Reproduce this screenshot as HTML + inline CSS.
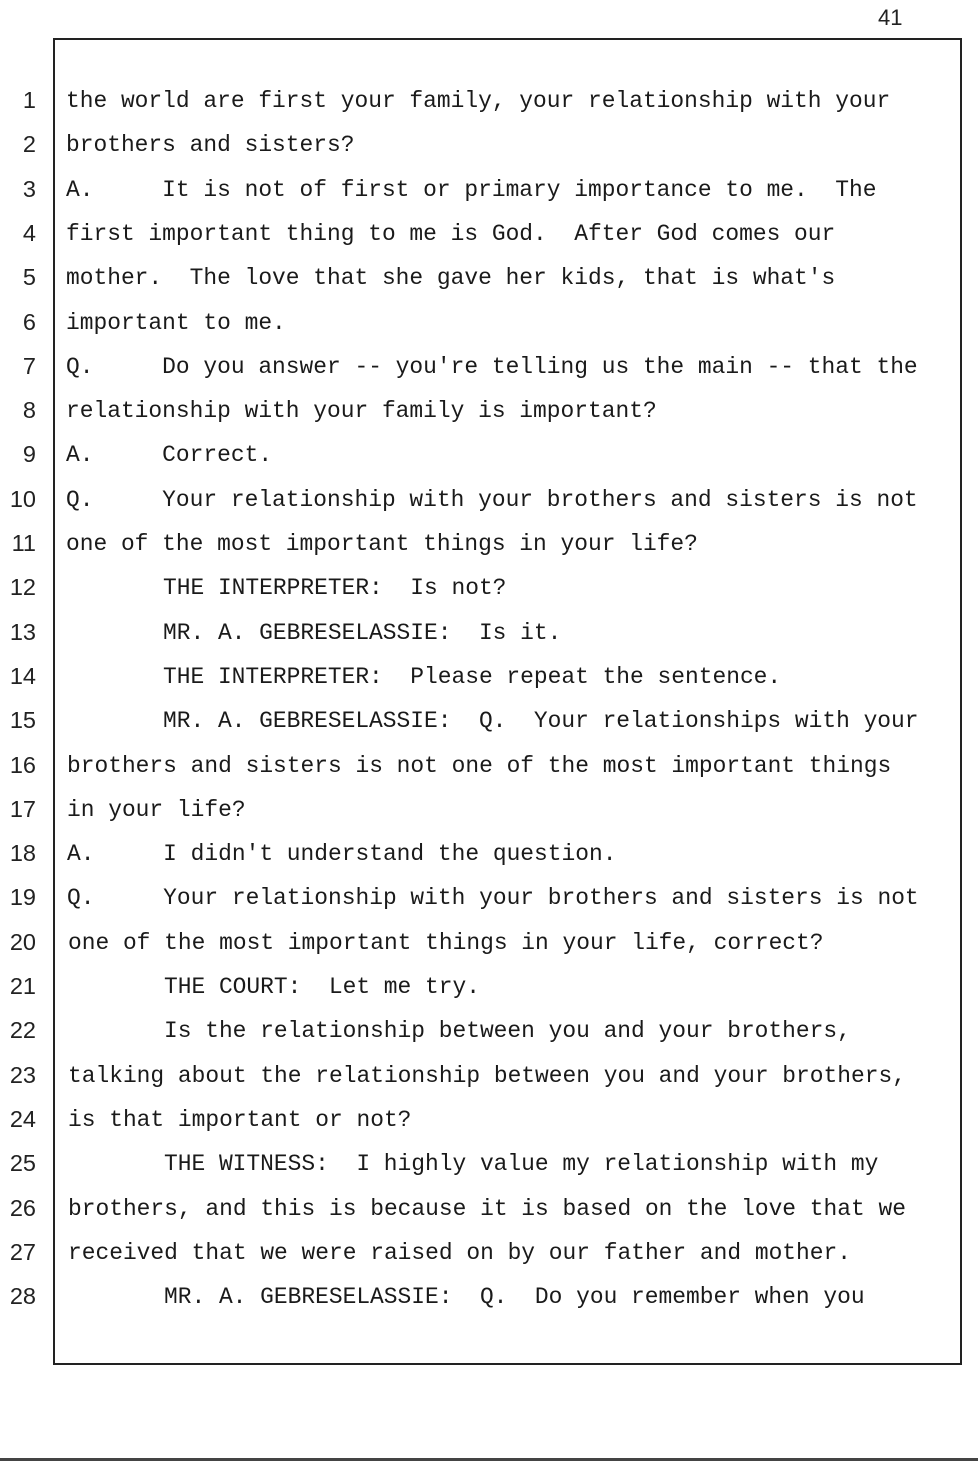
<!DOCTYPE html>
<html><head><meta charset="utf-8"><style>
body{margin:0;width:978px;height:1472px;background:#fff;position:relative;overflow:hidden;}
.box{position:absolute;left:53px;top:38px;width:905px;height:1323px;border:2px solid #222;}
.n{position:absolute;left:0;width:36px;text-align:right;font-family:"Liberation Sans",sans-serif;font-size:23.5px;color:#222;}
.t{position:absolute;font-family:"Liberation Mono",monospace;font-size:22.9px;color:#1a1a1a;white-space:pre;}
.pg{position:absolute;left:878px;top:5px;font-family:"Liberation Sans",sans-serif;font-size:22px;color:#222;}
.bot{position:absolute;left:0;top:1458px;width:978px;height:3px;background:#444;}
</style></head><body>
<div class="pg">41</div>
<div class="box"></div>
<div class="bot"></div>
<div id="c"></div>
<script>
var L=[
[66,"the world are first your family, your relationship with your"],
[66,"brothers and sisters?"],
[66,"A.     It is not of first or primary importance to me.  The"],
[66,"first important thing to me is God.  After God comes our"],
[66,"mother.  The love that she gave her kids, that is what's"],
[66,"important to me."],
[66,"Q.     Do you answer -- you're telling us the main -- that the"],
[66,"relationship with your family is important?"],
[66,"A.     Correct."],
[66,"Q.     Your relationship with your brothers and sisters is not"],
[66,"one of the most important things in your life?"],
[163,"THE INTERPRETER:  Is not?"],
[163,"MR. A. GEBRESELASSIE:  Is it."],
[163,"THE INTERPRETER:  Please repeat the sentence."],
[163,"MR. A. GEBRESELASSIE:  Q.  Your relationships with your"],
[67,"brothers and sisters is not one of the most important things"],
[67,"in your life?"],
[67,"A.     I didn't understand the question."],
[67,"Q.     Your relationship with your brothers and sisters is not"],
[68,"one of the most important things in your life, correct?"],
[164,"THE COURT:  Let me try."],
[164,"Is the relationship between you and your brothers,"],
[68,"talking about the relationship between you and your brothers,"],
[68,"is that important or not?"],
[164,"THE WITNESS:  I highly value my relationship with my"],
[68,"brothers, and this is because it is based on the love that we"],
[68,"received that we were raised on by our father and mother."],
[164,"MR. A. GEBRESELASSIE:  Q.  Do you remember when you"]
];
var h="";
for(var i=0;i<L.length;i++){var y=101+i*44.3;
h+='<div class="n" style="top:'+(y-14)+'px">'+(i+1)+'</div>';
h+='<div class="t" style="left:'+L[i][0]+'px;top:'+(y-13)+'px">'+L[i][1].replace(/</g,"&lt;")+'</div>';}
document.getElementById("c").innerHTML=h;
</script>
</body></html>
